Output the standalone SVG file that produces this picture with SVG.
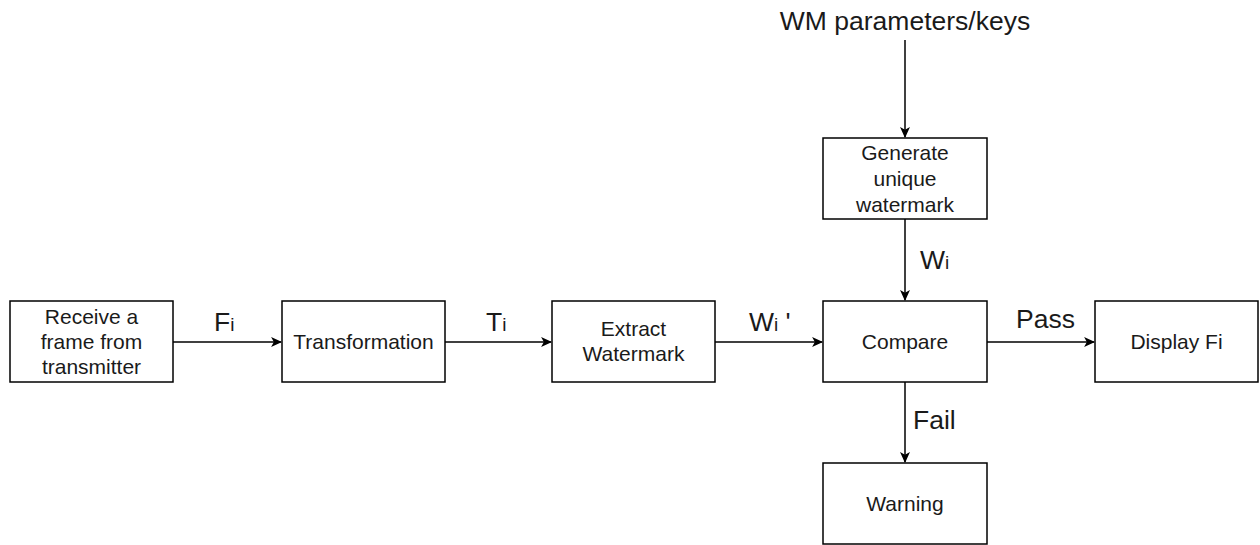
<svg xmlns="http://www.w3.org/2000/svg" width="1260" height="545" viewBox="0 0 1260 545">
  <style>
    .box { fill: #ffffff; stroke: #000000; stroke-width: 1.5; }
    .edge { fill: none; stroke: #000000; stroke-width: 1.5; }
    .t { font-family: "Liberation Sans", Arial, Helvetica, sans-serif; font-size: 21px; fill: #1a1a1a; text-anchor: middle; }
    .lbl { font-family: "Liberation Sans", Arial, Helvetica, sans-serif; font-size: 26.5px; fill: #1a1a1a; }
    .sub { font-size: 19px; }
  </style>
  <defs>
    <marker id="arrow" viewBox="0 0 10 10" refX="9" refY="5" markerWidth="11" markerHeight="11" markerUnits="userSpaceOnUse" orient="auto">
      <path d="M0,0.5 L10,5 L0,9.5 L2.5,5 Z" fill="#000000"/>
    </marker>
  </defs>
  <rect width="1260" height="545" fill="#ffffff"/>

  <!-- connectors -->
  <g id="connectors">
    <line class="edge" x1="905" y1="40" x2="905" y2="137" marker-end="url(#arrow)"/>
    <line class="edge" x1="173" y1="342" x2="281" y2="342" marker-end="url(#arrow)"/>
    <line class="edge" x1="445" y1="342" x2="551" y2="342" marker-end="url(#arrow)"/>
    <line class="edge" x1="715" y1="342" x2="822" y2="342" marker-end="url(#arrow)"/>
    <line class="edge" x1="905" y1="219" x2="905" y2="300" marker-end="url(#arrow)"/>
    <line class="edge" x1="987" y1="342" x2="1094" y2="342" marker-end="url(#arrow)"/>
    <line class="edge" x1="905" y1="382" x2="905" y2="462" marker-end="url(#arrow)"/>
    <text class="lbl" x="214" y="331">F<tspan class="sub">i</tspan></text>
    <text class="lbl" x="486" y="331">T<tspan class="sub">i</tspan></text>
    <text class="lbl" x="749" y="331">W<tspan class="sub">i</tspan> '</text>
    <text class="lbl" x="920" y="269">W<tspan class="sub">i</tspan></text>
    <text class="lbl" x="1016" y="328">Pass</text>
    <text class="lbl" x="913" y="429">Fail</text>
  </g>

  <g id="wm-params">
    <text class="lbl" x="905" y="30" text-anchor="middle">WM parameters/keys</text>
  </g>

  <g id="receive">
    <rect class="box" x="10" y="301" width="163" height="81"/>
    <text class="t" x="91.5" y="324">Receive a</text>
    <text class="t" x="91.5" y="349">frame from</text>
    <text class="t" x="91.5" y="374">transmitter</text>
  </g>

  <g id="transformation">
    <rect class="box" x="282" y="301" width="163" height="81"/>
    <text class="t" x="363.5" y="349">Transformation</text>
  </g>

  <g id="extract">
    <rect class="box" x="552" y="301" width="163" height="81"/>
    <text class="t" x="633.5" y="336">Extract</text>
    <text class="t" x="633.5" y="361">Watermark</text>
  </g>

  <g id="generate">
    <rect class="box" x="823" y="138" width="164" height="81"/>
    <text class="t" x="905" y="160">Generate</text>
    <text class="t" x="905" y="186">unique</text>
    <text class="t" x="905" y="212">watermark</text>
  </g>

  <g id="compare">
    <rect class="box" x="823" y="301" width="164" height="81"/>
    <text class="t" x="905" y="349">Compare</text>
  </g>

  <g id="display">
    <rect class="box" x="1095" y="301" width="163" height="81"/>
    <text class="t" x="1176.5" y="349">Display Fi</text>
  </g>

  <g id="warning">
    <rect class="box" x="823" y="463" width="164" height="81"/>
    <text class="t" x="905" y="511">Warning</text>
  </g>
</svg>
